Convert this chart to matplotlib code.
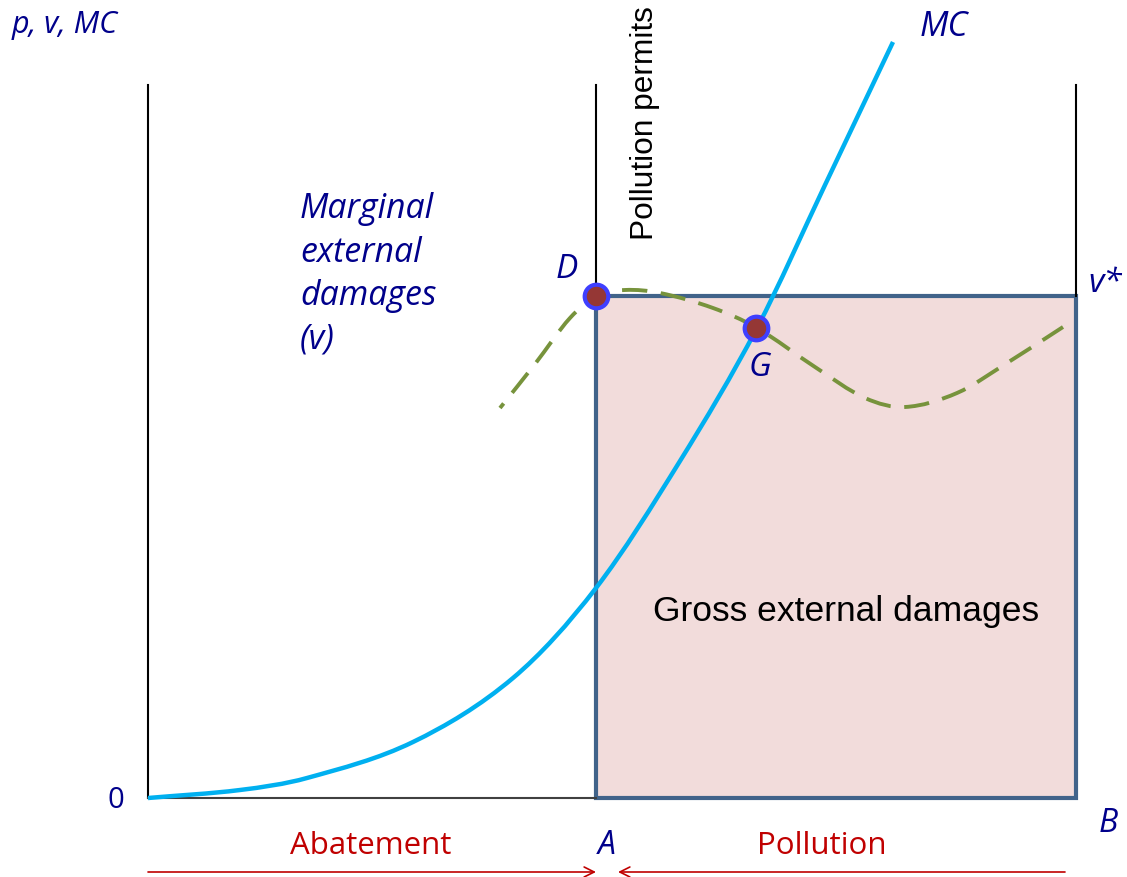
import matplotlib.pyplot as plt
from matplotlib.patches import Rectangle, PathPatch
from matplotlib.path import Path

# chart laid out in picture units (x to the right, y downwards)
x_origin, y_origin = 148, 798
x_permits = 596          # A: number of pollution permits
x_max = 1076             # B
y_top = 85
v_star = 296             # height of the marginal damage at A

# marginal cost curve
mc_x = [148, 240, 307, 413, 513, 596, 680, 757, 825, 893]
mc_y = [798, 790, 778, 742, 678, 588, 461, 328, 185, 42]

# marginal external damages (dashed)
mD_x = [500, 535, 570, 597, 625, 660, 713, 757, 815, 865, 905, 957, 1007, 1063]
mD_y = [408, 364, 318, 296, 290, 293, 308, 328, 367, 398, 407, 393, 363, 327]

# labelled points
pts_x = [596, 756]
pts_y = [296, 328]

navy = "#00008b"
red = "#c00000"
sans = "Open Sans"


#smooth path through the read points (bezier segments, tangents along x)
def smooth_path(xs, ys):
    n = len(xs)
    slopes = []
    for i in range(n):
        a = max(i - 1, 0)
        b = min(i + 1, n - 1)
        slopes.append((ys[b] - ys[a]) / (xs[b] - xs[a]))
    verts = [(xs[0], ys[0])]
    codes = [Path.MOVETO]
    for i in range(n - 1):
        h = (xs[i + 1] - xs[i]) / 3
        verts += [(xs[i] + h, ys[i] + slopes[i] * h),
                  (xs[i + 1] - h, ys[i + 1] - slopes[i + 1] * h),
                  (xs[i + 1], ys[i + 1])]
        codes += [Path.CURVE4] * 3
    return Path(verts, codes)


fig = plt.figure(figsize=(11.27, 8.77), dpi=100)
ax = fig.add_axes([0, 0, 1, 1])
ax.set_xlim(0, 1127)
ax.set_ylim(877, 0)
ax.axis("off")

# gross external damages box
ax.add_patch(Rectangle((x_permits, v_star), x_max - x_permits, y_origin - v_star,
                       facecolor="#f2dcdb", edgecolor="#41638a", lw=3, zorder=1))

# axes and vertical lines
ax.plot([x_origin, x_origin], [y_top, y_origin], color="black", lw=1.5, zorder=2)
ax.plot([x_origin, x_permits], [y_origin, y_origin], color="#404040", lw=1.5, zorder=2)
ax.plot([x_permits, x_permits], [y_top, v_star], color="black", lw=1.5, zorder=2)
ax.plot([x_max, x_max], [y_top, v_star], color="black", lw=1.5, zorder=2)

# curves
ax.add_patch(PathPatch(smooth_path(mc_x, mc_y), fill=False, edgecolor="#00b0f0",
                       lw=3.2, zorder=3, capstyle="butt"))
ax.add_patch(PathPatch(smooth_path(mD_x, mD_y), fill=False, edgecolor="#77933c",
                       lw=2.8, zorder=3, linestyle=(5, (6.5, 3.5)), capstyle="butt"))
ax.plot(pts_x, pts_y, "o", ms=17, mfc="#953735", mec="#3f3fff", mew=3, zorder=5)

# texts
ax.text(12, 25, "p, v, MC", color=navy, fontsize=22, style="italic", family=sans,
        ha="left", va="center")
ax.text(920, 27, "MC", color=navy, fontsize=24.5, style="italic", family=sans,
        ha="left", va="center")
for i, line in enumerate(["Marginal", "external", "damages", "(v)"]):
    ax.text(300, 209 + i * 43.5, line, color=navy, fontsize=24.4, style="italic", family=sans,
            ha="left", va="center")
ax.text(567, 270, "D", color=navy, fontsize=24, style="italic", family=sans, ha="center", va="center")
ax.text(760, 368, "G", color=navy, fontsize=24, style="italic", family=sans, ha="center", va="center")
ax.text(1088, 283, "v*", color=navy, fontsize=24, style="italic", family=sans, ha="left", va="center")
ax.text(116, 801, "0", color=navy, fontsize=21, family=sans, ha="center", va="center")
ax.text(1108, 824, "B", color=navy, fontsize=23, style="italic", family=sans, ha="center", va="center")
ax.text(607, 846, "A", color=navy, fontsize=23, style="italic", family=sans, ha="center", va="center")

ax.text(846, 612, "Gross external damages", color="black", fontsize=25.5,
        family="Liberation Sans", ha="center", va="center")
ax.text(645, 123, "Pollution permits", color="black", fontsize=22.8, rotation=90,
        family="Liberation Sans", ha="center", va="center")

ax.text(371, 846, "Abatement", color=red, fontsize=22.5, family=sans, ha="center", va="center")
ax.text(822, 846, "Pollution", color=red, fontsize=22.5, family=sans, ha="center", va="center")

# abatement / pollution arrows
ax.annotate("", xy=(x_permits, 872), xytext=(x_origin, 872),
            arrowprops=dict(arrowstyle="->", color=red, lw=1.2, shrinkA=0, shrinkB=0,
                            mutation_scale=18))
ax.annotate("", xy=(618, 872), xytext=(1065, 872),
            arrowprops=dict(arrowstyle="->", color=red, lw=1.2, shrinkA=0, shrinkB=0,
                            mutation_scale=18))

fig.savefig("out.png", dpi=100)
